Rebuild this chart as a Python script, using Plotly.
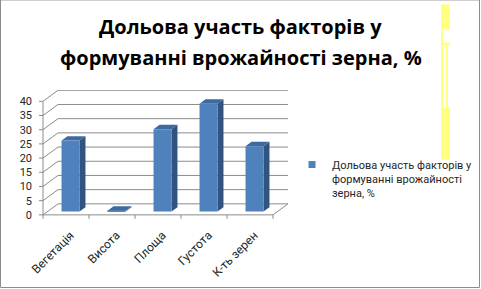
import plotly.graph_objects as go

# ---- data ----
categories = ["Вегетація", "Висота", "Площа", "Густота", "К-ть зерен"]
values = [25, 0.3, 29, 38, 23]
series_name = "Дольова участь факторів у<br>формуванні врожайності<br>зерна, %"
y_ticks = [0, 5, 10, 15, 20, 25, 30, 35, 40]
title_lines = ["Дольова участь факторів у", "формуванні врожайності зерна, %"]

# ---- geometry / style ----
W, H = 481, 289
PX_CAT = 46.0      # pixels per category
X0PIX = 43.0       # pixel of x=-0.5 (front-left corner)
PX_UNIT = 2.833    # pixels per value unit
Y0PIX = 215.0      # pixel of y=0 (front floor)
DX = 15.0 / PX_CAT   # depth offset in category units
DY = 11.0 / PX_UNIT  # depth offset in value units
D0 = 0.3           # front depth of bars (fraction)
BD = 0.4           # bar depth (fraction)
BW = 0.39          # bar width

n = len(categories)
ml = 38.0
mr = 2.0
pw = W - ml - mr
x_left = -0.5 - (X0PIX - ml) / PX_CAT
xr = [x_left, x_left + pw / PX_CAT]
yr = [-0.4, max(y_ticks) + DY + 0.1]
mb = H - (Y0PIX + (0 - yr[0]) * PX_UNIT)
ph = (yr[1] - yr[0]) * PX_UNIT
mt = H - mb - ph

grid_c = "#8c8c8c"
front_c = "#4F81BD"
side_c = "#30537F"
top_c = "#3E6A9F"
text_c = "#262626"

xs = [i + D0 * DX for i in range(n)]
base = D0 * DY

px2x = lambda p: (p - ml) / pw
py2y = lambda p: (H - mb - p) / ph
y_to_paper = lambda v: (v - yr[0]) / (yr[1] - yr[0])
r4 = lambda v: round(v, 4)

shapes = []
# back wall gridlines and left wall diagonals
for v in y_ticks:
    shapes.append(dict(type="line", xref="x", yref="y", x0=r4(-0.5 + DX), x1=r4(n - 0.5 + DX),
                       y0=r4(v + DY), y1=r4(v + DY), line=dict(color=grid_c, width=1), layer="below"))
    shapes.append(dict(type="line", xref="x", yref="y", x0=-0.5, x1=r4(-0.5 + DX),
                       y0=v, y1=r4(v + DY), line=dict(color=grid_c, width=1), layer="below"))
# floor front and right edges
shapes.append(dict(type="line", xref="x", yref="y", x0=-0.5, x1=n - 0.5, y0=0, y1=0,
                   line=dict(color=grid_c, width=1), layer="below"))
shapes.append(dict(type="line", xref="x", yref="y", x0=n - 0.5, x1=r4(n - 0.5 + DX), y0=0, y1=r4(DY),
                   line=dict(color=grid_c, width=1), layer="below"))
# y axis line
shapes.append(dict(type="line", xref="x", yref="y", x0=-0.5, x1=-0.5, y0=0, y1=max(y_ticks),
                   line=dict(color=grid_c, width=1), layer="below"))
# y axis ticks (outside, left)
for v in y_ticks:
    shapes.append(dict(type="line", xref="x", yref="y",
                       x0=r4(-0.5 - 4.0 / PX_CAT), x1=-0.5,
                       y0=v, y1=v, line=dict(color=grid_c, width=1)))
# x category boundary ticks (downward)
for k in range(n + 1):
    xb = k - 0.5
    shapes.append(dict(type="line", xref="x", yref="paper",
                       x0=xb, x1=xb,
                       y0=r4(y_to_paper(0)), y1=r4(y_to_paper(0) - 4.0 / ph),
                       line=dict(color=grid_c, width=1)))
# 3D faces of bars
for x, v in zip(xs, values):
    xl, xrt = r4(x - BW / 2), r4(x + BW / 2)
    ddx, ddy = BD * DX, BD * DY
    y0, y1 = r4(base), r4(base + v)
    side = (f"M {xrt},{y0} L {r4(xrt + ddx)},{r4(y0 + ddy)} L {r4(xrt + ddx)},{r4(y1 + ddy)} "
            f"L {xrt},{y1} Z")
    top = (f"M {xl},{y1} L {r4(xl + ddx)},{r4(y1 + ddy)} L {r4(xrt + ddx)},{r4(y1 + ddy)} "
           f"L {xrt},{y1} Z")
    shapes.append(dict(type="path", xref="x", yref="y", path=side, fillcolor=side_c,
                       line=dict(width=0), layer="below"))
    shapes.append(dict(type="path", xref="x", yref="y", path=top, fillcolor=top_c,
                       line=dict(width=0), layer="below"))

# outer border
shapes.append(dict(type="rect", xref="paper", yref="paper", x0=r4(px2x(0.5)), x1=r4(px2x(W - 1.5)),
                   y0=r4(py2y(H - 1.5)), y1=r4(py2y(0.5)), line=dict(color="#8c8c8c", width=1)))
# yellow strip artefact on the right
yellow = "#ffff80"
for (a, b, c, d) in [(441, 450, 5, 30), (441, 443, 30, 108), (441, 450, 43, 46),
                     (446, 448, 46, 108), (441, 450, 108, 160)]:
    shapes.append(dict(type="rect", xref="paper", yref="paper", x0=r4(px2x(a)), x1=r4(px2x(b)),
                       y0=r4(py2y(d)), y1=r4(py2y(c)), fillcolor=yellow, line=dict(width=0)))

# title as two centred lines
annotations = []
for line_text, yc in zip(title_lines, [27.0, 58.0]):
    annotations.append(dict(text=f"<b>{line_text}</b>", xref="paper", yref="paper",
                            x=r4(px2x(240.5)), y=r4(py2y(yc)), xanchor="center", yanchor="middle",
                            showarrow=False,
                            font=dict(family="Open Sans, Roboto, sans-serif", size=20,
                                      color="#000000")))

fig = go.Figure()
fig.add_trace(go.Bar(
    x=xs, y=values, base=base, width=BW, name=series_name,
    marker=dict(color=front_c, line=dict(width=0)),
    showlegend=False, legendgroup="s",
))
# legend entry with a small square key
fig.add_trace(go.Scatter(
    x=[None], y=[None], mode="markers", name=series_name, legendgroup="s",
    marker=dict(symbol="square", size=7, color=front_c), showlegend=True,
))

fig.update_layout(
    width=W, height=H,
    margin=dict(l=ml, r=mr, t=mt, b=mb, pad=0, autoexpand=False),
    paper_bgcolor="white", plot_bgcolor="rgba(0,0,0,0)",
    font=dict(family="Roboto, Arial, sans-serif", size=11, color=text_c),
    xaxis=dict(range=xr, tickvals=xs, ticktext=categories, tickangle=-45,
               showgrid=False, zeroline=False, showline=False, ticks="",
               ticklabelstandoff=9,
               tickfont=dict(size=12, color=text_c), fixedrange=True),
    yaxis=dict(range=yr, tickvals=y_ticks, showgrid=False, zeroline=False, showline=False,
               ticks="", ticklabelstandoff=5, tickfont=dict(size=11, color=text_c),
               fixedrange=True),
    legend=dict(x=r4(px2x(292)), y=r4(py2y(151)), xanchor="left", yanchor="top",
                valign="top",
                font=dict(size=11, color=text_c), bgcolor="rgba(0,0,0,0)"),
    shapes=shapes,
    annotations=annotations,
    showlegend=True,
)

fig.write_html("out.html")
